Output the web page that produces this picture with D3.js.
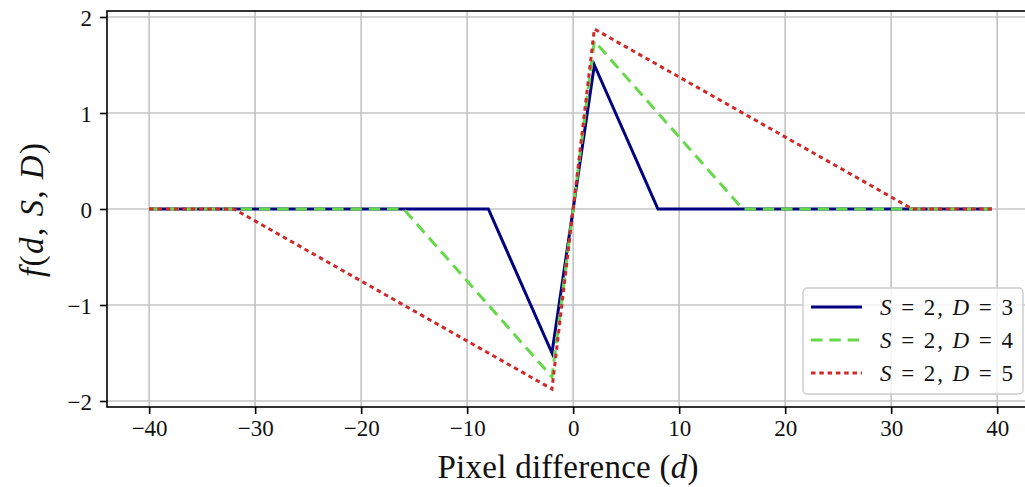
<!DOCTYPE html>
<html>
<head>
<meta charset="utf-8">
<script src="https://cdn.jsdelivr.net/npm/d3@7"></script>
<style>
  body { margin: 0; background: #fff; }
  svg { display: block; }
  text { font-family: "Liberation Serif", "DejaVu Serif", serif; fill: #111; }
</style>
</head>
<body>
<svg width="1025" height="487"></svg>
<script>
// series data
var seriesD = [3, 4, 5];
var dPoints3 = [-40, -8, -2, 2, 8, 39.5];
var fPoints3 = [0, 0, -1.5, 1.5, 0, 0];
var dPoints4 = [-40, -16, -2, 2, 16, 39.5];
var fPoints4 = [0, 0, -1.75, 1.75, 0, 0];
var dPoints5 = [-40, -32, -2, 2, 32, 39.5];
var fPoints5 = [0, 0, -1.875, 1.875, 0, 0];
var xTicks = [-40, -30, -20, -10, 0, 10, 20, 30, 40];
var yTicks = [-2, -1, 0, 1, 2];

var colors = ['#000080', '#66d94a', '#cf2a2a'];
var dashes = [null, '11.5,6.8', '4.5,3.8'];

var svg = d3.select('svg'),
  plotL = 107, plotR = 1034, plotT = 11, plotB = 407;

var series = [
  { D: seriesD[0], d: dPoints3, f: fPoints3 },
  { D: seriesD[1], d: dPoints4, f: fPoints4 },
  { D: seriesD[2], d: dPoints5, f: fPoints5 }
];

// matplotlib style 5% margins
var xMin = d3.min(series, s => d3.min(s.d)), xMax = d3.max(series, s => d3.max(s.d));
var yMin = d3.min(series, s => d3.min(s.f)), yMax = d3.max(series, s => d3.max(s.f));
var xPad = (xMax - xMin) * 0.05, yPad = (yMax - yMin) * 0.05;

var x = d3.scaleLinear().domain([xMin - xPad, xMax + xPad]).range([plotL, plotR]);
var y = d3.scaleLinear().domain([yMin - yPad, yMax + yPad]).range([plotB, plotT]);

function fmt(v) {
  return v < 0 ? '\u2212' + Math.abs(v) : '' + v;
}

// grid
var grid = svg.append('g');
grid.selectAll('.gx').data(xTicks).enter().append('line')
  .attr('x1', d => x(d)).attr('x2', d => x(d))
  .attr('y1', plotT).attr('y2', plotB)
  .attr('stroke', '#c4c4c4').attr('stroke-width', 1.6);
grid.selectAll('.gy').data(yTicks).enter().append('line')
  .attr('x1', plotL).attr('x2', plotR)
  .attr('y1', d => y(d)).attr('y2', d => y(d))
  .attr('stroke', '#c4c4c4').attr('stroke-width', 1.6);

// lines
var line = d3.line()
  .x(function(p) { return x(p[0]); })
  .y(function(p) { return y(p[1]); });

series.forEach(function(s, i) {
  svg.append('path')
    .datum(d3.zip(s.d, s.f))
    .attr('d', line)
    .attr('fill', 'none')
    .attr('stroke', colors[i])
    .attr('stroke-width', 3)
    .attr('stroke-linejoin', 'miter')
    .attr('stroke-dasharray', dashes[i]);
});

// axes
var xAxis = svg.append('g')
  .attr('transform', 'translate(0,' + plotB + ')')
  .call(d3.axisBottom(x).tickValues(xTicks).tickFormat(fmt).tickSize(7).tickPadding(6));
var yAxis = svg.append('g')
  .attr('transform', 'translate(' + plotL + ',0)')
  .call(d3.axisLeft(y).tickValues(yTicks).tickFormat(fmt).tickSize(7).tickPadding(8));

[xAxis, yAxis].forEach(function(a) {
  a.select('.domain').remove();
  a.selectAll('line').attr('stroke', '#000').attr('stroke-width', 1.6);
  a.selectAll('text').attr('font-family', '"Liberation Serif", serif')
    .attr('font-size', 23).attr('fill', '#111');
});
yAxis.selectAll('text').attr('dy', '0.35em');

// frame
svg.append('rect')
  .attr('x', plotL).attr('y', plotT)
  .attr('width', plotR - plotL).attr('height', plotB - plotT)
  .attr('fill', 'none').attr('stroke', '#000').attr('stroke-width', 1.6);

// axis labels
var xl = svg.append('text')
  .attr('x', 568).attr('y', 478)
  .attr('text-anchor', 'middle').attr('font-size', 33)
  .attr('textLength', 261).attr('lengthAdjust', 'spacing');
xl.append('tspan').text('Pixel difference (');
xl.append('tspan').attr('font-style', 'italic').text('d');
xl.append('tspan').text(')');

var yl = svg.append('text')
  .attr('transform', 'translate(43,210) rotate(-90)')
  .attr('text-anchor', 'middle').attr('font-size', 33)
  .attr('textLength', 134).attr('lengthAdjust', 'spacing');
yl.append('tspan').attr('font-style', 'italic').text('f');
yl.append('tspan').text('(');
yl.append('tspan').attr('font-style', 'italic').text('d');
yl.append('tspan').text(', ');
yl.append('tspan').attr('font-style', 'italic').text('S');
yl.append('tspan').text(', ');
yl.append('tspan').attr('font-style', 'italic').text('D');
yl.append('tspan').text(')');

// legend
var lg = svg.append('g').attr('transform', 'translate(803,288)');
lg.append('rect')
  .attr('width', 220).attr('height', 106).attr('rx', 4)
  .attr('fill', 'rgba(255,255,255,0.8)')
  .attr('stroke', '#cccccc').attr('stroke-width', 1.4);

series.forEach(function(s, i) {
  var yy = 19 + i * 33;
  lg.append('line')
    .attr('x1', 8).attr('x2', 59).attr('y1', yy).attr('y2', yy)
    .attr('stroke', colors[i]).attr('stroke-width', 3)
    .attr('stroke-dasharray', dashes[i]);
  var t = lg.append('text')
    .attr('x', 77).attr('y', yy + 8).attr('font-size', 23)
    .attr('textLength', 133).attr('lengthAdjust', 'spacing');
  t.append('tspan').attr('font-style', 'italic').text('S');
  t.append('tspan').text(' = 2, ');
  t.append('tspan').attr('font-style', 'italic').text('D');
  t.append('tspan').text(' = ' + s.D);
});
</script>
</body>
</html>
